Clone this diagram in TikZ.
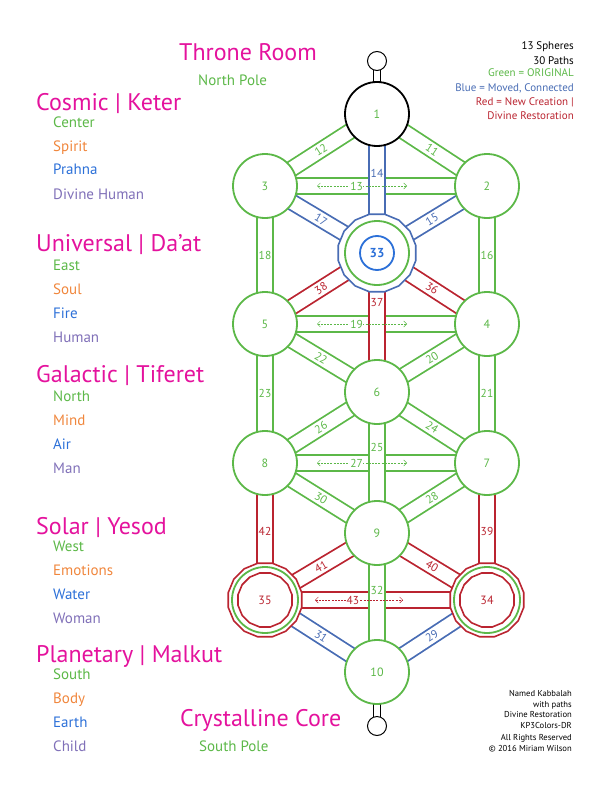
\documentclass[tikz,border=0pt]{standalone}
\usepackage{fontspec}
\setmainfont{PT Sans}
\usetikzlibrary{shapes.geometric,backgrounds,arrows.meta}
\definecolor{kgreen}{RGB}{92,184,72}
\definecolor{kblue}{RGB}{72,108,180}
\definecolor{kred}{RGB}{186,36,48}
\definecolor{kpink}{RGB}{228,18,157}
\definecolor{korange}{RGB}{240,134,60}
\definecolor{ksky}{RGB}{44,112,216}
\definecolor{kviolet}{RGB}{128,112,184}
\tikzset{%
  sphere/.style = {circle, draw=kgreen, fill=white, line width=1.8pt,%
                   minimum size=64pt, inner sep=0pt, text=kgreen,%
                   font=\fontsize{12}{14}\selectfont},%
  pole/.style   = {circle, draw=black, fill=white, line width=1pt,%
                   minimum size=19pt, inner sep=0pt},%
  ring/.style   = {regular polygon, regular polygon sides=16, fill=white,%
                   line width=1.6pt, inner sep=0pt},%
  core/.style   = {circle, draw=ksky, line width=1.8pt, minimum size=34pt,%
                   inner sep=0pt, text=ksky, font=\fontsize{13}{14}\selectfont\bfseries},%
  band/.style   = {draw=#1, text=#1, line width=1.8pt, double=white, double distance=13.5pt},%
  stub/.style   = {draw=black, line width=1pt, double=white, double distance=5.5pt},%
  num/.style    = {font=\fontsize{11.5}{13}\selectfont, inner sep=0.5pt},%
  hint/.style   = {draw=#1, text=#1, dash pattern=on 2pt off 1.2pt, line width=0.5pt,%
                   {Straight Barb[length=3pt,width=6pt]}-{Straight Barb[length=3pt,width=6pt]}},%
  title/.style  = {anchor=base west, text=kpink, font=\fontsize{24}{26}\selectfont, inner sep=0pt},%
  item/.style   = {anchor=base west, font=\fontsize{15}{17}\selectfont, inner sep=0pt},%
  note/.style   = {anchor=base east, font=\fontsize{11}{13}\selectfont, inner sep=0pt},%
  credit/.style = {anchor=base east, font=\fontsize{8.6}{10}\selectfont, inner sep=0pt}%
}
\begin{document}
\begin{tikzpicture}[x=1pt, y=-1pt]
	\useasboundingbox (0,0) rectangle (612,792);
	% spheres
	\node[pole] (pn) at (377,61) {};
	\node[sphere, draw=black] (s1) at (377,114) {1};
	\node[sphere] (s3) at (265,186) {3};
	\node[sphere] (s2) at (487,186) {2};
	\node[ring, draw=kblue, minimum size=79pt] (s33) at (377,253) {};
	\node[sphere] (g33) at (s33) {};
	\node[core] (c33) at (s33) {33};
	\node[sphere] (s5) at (265,324) {5};
	\node[sphere] (s4) at (487,324) {4};
	\node[sphere] (s6) at (377,392) {6};
	\node[sphere] (s8) at (265,463) {8};
	\node[sphere] (s7) at (487,463) {7};
	\node[sphere] (s9) at (377,533) {9};
	\node[ring, draw=kred, minimum size=75pt] (s35) at (265,600) {};
	\node[sphere, minimum size=66pt] (g35) at (s35) {};
	\node[ring, draw=kred, minimum size=55pt, text=kred,%
	      font=\fontsize{12}{14}\selectfont] (c35) at (s35) {35};
	\node[ring, draw=kred, minimum size=75pt] (s34) at (487,600) {};
	\node[sphere, minimum size=66pt] (g34) at (s34) {};
	\node[ring, draw=kred, minimum size=55pt, text=kred,%
	      font=\fontsize{12}{14}\selectfont] (c34) at (s34) {34};
	\node[sphere] (s10) at (377,672) {10};
	\node[pole] (ps) at (377,726) {};
	% paths
	\begin{scope}[on background layer]
		\draw[stub] (pn.center) -- (s1.center);
		\draw[stub] (s10.center) -- (ps.center);
		\draw[band=kgreen] (s3.center) -- (s2.center);
		\draw[band=kgreen] (s5.center) -- (s4.center);
		\draw[band=kgreen] (s8.center) -- (s7.center);
		\draw[band=kred]   (s35.center) -- (s34.center);
		\draw[band=kgreen] (s1.center) -- node[num, sloped] {11} (s2.center);
		\draw[band=kgreen] (s3.center) -- node[num, sloped] {12} (s1.center);
		\draw[band=kblue]  (s33.center) -- node[num, sloped] {15} (s2.center);
		\draw[band=kblue]  (s3.center) -- node[num, sloped] {17} (s33.center);
		\draw[band=kgreen] (s2.center) -- node[num] {16} (s4.center);
		\draw[band=kgreen] (s3.center) -- node[num] {18} (s5.center);
		\draw[band=kred]   (s33.center) -- node[num, sloped] {36} (s4.center);
		\draw[band=kred]   (s5.center) -- node[num, sloped] {38} (s33.center);
		\draw[band=kgreen] (s6.center) -- node[num, sloped] {20} (s4.center);
		\draw[band=kgreen] (s4.center) -- node[num] {21} (s7.center);
		\draw[band=kgreen] (s5.center) -- node[num, sloped] {22} (s6.center);
		\draw[band=kgreen] (s5.center) -- node[num] {23} (s8.center);
		\draw[band=kgreen] (s6.center) -- node[num, sloped] {24} (s7.center);
		\draw[band=kgreen] (s8.center) -- node[num, sloped] {26} (s6.center);
		\draw[band=kgreen] (s9.center) -- node[num, sloped] {28} (s7.center);
		\draw[band=kgreen] (s8.center) -- node[num, sloped] {30} (s9.center);
		\draw[band=kred]   (s7.center) -- node[num] {39} (s34.center);
		\draw[band=kred]   (s9.center) -- node[num, sloped] {40} (s34.center);
		\draw[band=kred]   (s35.center) -- node[num, sloped] {41} (s9.center);
		\draw[band=kred]   (s8.center) -- node[num] {42} (s35.center);
		\draw[band=kblue]  (s10.center) -- node[num, sloped] {29} (s34.center);
		\draw[band=kblue]  (s35.center) -- node[num, sloped] {31} (s10.center);
		\draw[band=kblue]  (s1.center) -- node[num, pos=0.43] {14} (s33.center);
		\draw[band=kred]   (s33.center) -- node[num, pos=0.36] {37} (s6.center);
		\draw[band=kgreen] (s6.center) -- node[num, pos=0.39] {25} (s9.center);
		\draw[band=kgreen] (s9.center) -- node[num, pos=0.41] {32} (s10.center);
		\draw[hint=kgreen] ([xshift=52pt]s3.center) -- node[num, pos=0.44, fill=white] {13} ([xshift=-80pt]s2.center);
		\draw[hint=kgreen] ([xshift=52pt]s5.center) -- node[num, pos=0.44, fill=white] {19} ([xshift=-80pt]s4.center);
		\draw[hint=kgreen] ([xshift=52pt]s8.center) -- node[num, pos=0.44, fill=white] {27} ([xshift=-80pt]s7.center);
		\draw[hint=kred] ([xshift=50pt]s35.center) -- node[num, pos=0.43, fill=white] {43} ([xshift=-84pt]s34.center);
	\end{scope}
	% levels
	\node[title] (throne) at (179,60.5) {Throne Room};
	\node[item, text=kgreen] (npole) at (198,85) {North Pole};
	\node[title] (cosmic) at (36,110) {Cosmic | Keter};
	\node[item, text=kgreen] (c1) at (53,127) {Center};
	\node[item, text=korange] (c2) at (53,151.5) {Spirit};
	\node[item, text=ksky] (c3) at (53,174.5) {Prahna};
	\node[item, text=kviolet] (c4) at (53,199) {Divine Human};
	\node[title] (univ) at (36,251.5) {Universal | Da’at};
	\node[item, text=kgreen] (u1) at (53,270.5) {East};
	\node[item, text=korange] (u2) at (53,294.5) {Soul};
	\node[item, text=ksky] (u3) at (53,318) {Fire};
	\node[item, text=kviolet] (u4) at (53,342) {Human};
	\node[title] (gal) at (36,382) {Galactic | Tiferet};
	\node[item, text=kgreen] (g1) at (53,401) {North};
	\node[item, text=korange] (g2) at (53,425) {Mind};
	\node[item, text=ksky] (g3) at (53,449) {Air};
	\node[item, text=kviolet] (g4) at (53,473) {Man};
	\node[title] (solar) at (36,534) {Solar | Yesod};
	\node[item, text=kgreen] (y1) at (53,551) {West};
	\node[item, text=korange] (y2) at (53,575) {Emotions};
	\node[item, text=ksky] (y3) at (53,599) {Water};
	\node[item, text=kviolet] (y4) at (53,623.5) {Woman};
	\node[title] (plan) at (36,662) {Planetary | Malkut};
	\node[item, text=kgreen] (m1) at (53,679.3) {South};
	\node[item, text=korange] (m2) at (53,703.3) {Body};
	\node[item, text=ksky] (m3) at (53,727.2) {Earth};
	\node[item, text=kviolet] (m4) at (53,751.3) {Child};
	\node[title] (crystal) at (180,726.5) {Crystalline Core};
	\node[item, text=kgreen] (spole) at (199,751.3) {South Pole};
	% legend
	\node[note] (l1) at (574,49) {13 Spheres};
	\node[note] (l2) at (574,64.3) {30 Paths};
	\node[note, text=kgreen] (l3) at (574,76.7) {Green = ORIGINAL};
	\node[note, text=kblue] (l4) at (574,91) {Blue = Moved, Connected};
	\node[note, text=kred] (l5) at (574,105) {Red = New Creation |};
	\node[note, text=kred] (l6) at (574,119.3) {Divine Restoration};
	\node[credit] (r1) at (572,696.7) {Named Kabbalah};
	\node[credit] (r2) at (572,707.3) {with paths};
	\node[credit] (r3) at (572,717.3) {Divine Restoration};
	\node[credit] (r4) at (572,728.3) {KP3Colors-DR};
	\node[credit] (r5) at (572,740.7) {All Rights Reserved};
	\node[credit] (r6) at (572,751.7) {© 2016 Miriam Wilson};
\end{tikzpicture}
\end{document}
